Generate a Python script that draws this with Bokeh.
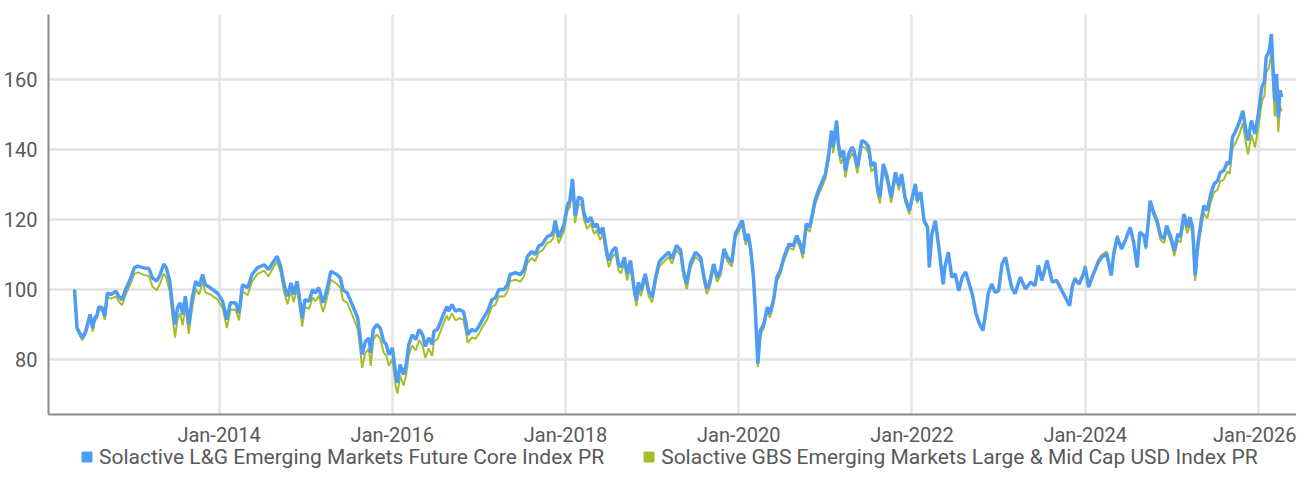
from bokeh.plotting import figure
from bokeh.models import Legend, LegendItem, FixedTicker
from bokeh.layouts import column
from bokeh.embed import file_html
from bokeh.resources import INLINE

FONT = "Roboto"
TEXT_COLOR = "#595959"
BLUE = "#4e9cf4"
GREEN = "#a6bd2b"

# dates as decimal years
dates = [
    2012.33, 2012.36, 2012.42, 2012.46, 2012.51, 2012.54, 2012.56, 2012.59, 2012.61, 2012.65,
    2012.68, 2012.71, 2012.75, 2012.81, 2012.84, 2012.88, 2012.92, 2012.98, 2013.02, 2013.06,
    2013.13, 2013.19, 2013.23, 2013.28, 2013.32, 2013.36, 2013.39, 2013.43, 2013.46, 2013.49,
    2013.52, 2013.55, 2013.58, 2013.61, 2013.65, 2013.69, 2013.73, 2013.77, 2013.81, 2013.84,
    2013.90, 2013.98, 2014.04, 2014.09, 2014.13, 2014.19, 2014.23, 2014.27, 2014.33, 2014.38,
    2014.44, 2014.52, 2014.57, 2014.63, 2014.67, 2014.71, 2014.75, 2014.79, 2014.83, 2014.86,
    2014.90, 2014.96, 2014.99, 2015.04, 2015.08, 2015.11, 2015.15, 2015.20, 2015.24, 2015.29,
    2015.32, 2015.36, 2015.40, 2015.43, 2015.48, 2015.52, 2015.56, 2015.60, 2015.63, 2015.65,
    2015.69, 2015.73, 2015.75, 2015.78, 2015.82, 2015.86, 2015.90, 2015.93, 2015.96, 2016.00,
    2016.04, 2016.06, 2016.09, 2016.13, 2016.16, 2016.19, 2016.23, 2016.27, 2016.31, 2016.35,
    2016.38, 2016.42, 2016.46, 2016.48, 2016.52, 2016.56, 2016.59, 2016.63, 2016.65, 2016.69,
    2016.73, 2016.77, 2016.82, 2016.85, 2016.87, 2016.92, 2016.96, 2017.00, 2017.04, 2017.10,
    2017.15, 2017.19, 2017.23, 2017.29, 2017.33, 2017.36, 2017.42, 2017.48, 2017.52, 2017.56,
    2017.61, 2017.65, 2017.69, 2017.73, 2017.79, 2017.83, 2017.86, 2017.88, 2017.92, 2017.98,
    2018.02, 2018.05, 2018.08, 2018.09, 2018.11, 2018.15, 2018.19, 2018.21, 2018.25, 2018.29,
    2018.33, 2018.36, 2018.40, 2018.43, 2018.47, 2018.50, 2018.54, 2018.58, 2018.61, 2018.64,
    2018.68, 2018.71, 2018.75, 2018.79, 2018.82, 2018.84, 2018.87, 2018.92, 2018.96, 2019.00,
    2019.04, 2019.08, 2019.11, 2019.15, 2019.19, 2019.23, 2019.28, 2019.33, 2019.36, 2019.40,
    2019.44, 2019.50, 2019.56, 2019.60, 2019.63, 2019.66, 2019.71, 2019.75, 2019.79, 2019.83,
    2019.87, 2019.92, 2019.96, 2020.00, 2020.04, 2020.08, 2020.11, 2020.14, 2020.17, 2020.19,
    2020.22, 2020.25, 2020.29, 2020.33, 2020.36, 2020.40, 2020.44, 2020.48, 2020.52, 2020.58,
    2020.63, 2020.67, 2020.71, 2020.74, 2020.78, 2020.82, 2020.85, 2020.88, 2020.92, 2020.96,
    2021.00, 2021.04, 2021.07, 2021.09, 2021.13, 2021.15, 2021.18, 2021.21, 2021.23, 2021.27,
    2021.31, 2021.33, 2021.37, 2021.42, 2021.46, 2021.50, 2021.53, 2021.57, 2021.60, 2021.63,
    2021.67, 2021.71, 2021.76, 2021.81, 2021.85, 2021.88, 2021.92, 2021.97, 2022.00, 2022.04,
    2022.06, 2022.10, 2022.14, 2022.18, 2022.20, 2022.23, 2022.27, 2022.31, 2022.36, 2022.38,
    2022.42, 2022.46, 2022.50, 2022.54, 2022.58, 2022.62, 2022.65, 2022.70, 2022.74, 2022.78,
    2022.82, 2022.86, 2022.88, 2022.92, 2022.96, 2023.00, 2023.04, 2023.08, 2023.11, 2023.15,
    2023.19, 2023.25, 2023.31, 2023.37, 2023.42, 2023.46, 2023.50, 2023.56, 2023.62, 2023.67,
    2023.71, 2023.73, 2023.77, 2023.82, 2023.85, 2023.88, 2023.93, 2023.98, 2024.00, 2024.04,
    2024.08, 2024.12, 2024.15, 2024.19, 2024.25, 2024.30, 2024.33, 2024.37, 2024.42, 2024.47,
    2024.52, 2024.56, 2024.60, 2024.63, 2024.68, 2024.70, 2024.73, 2024.75, 2024.79, 2024.83,
    2024.87, 2024.91, 2024.94, 2024.99, 2025.03, 2025.07, 2025.10, 2025.14, 2025.18, 2025.21,
    2025.24, 2025.27, 2025.30, 2025.34, 2025.37, 2025.41, 2025.45, 2025.49, 2025.53, 2025.56,
    2025.60, 2025.64, 2025.67, 2025.70, 2025.74, 2025.78, 2025.82, 2025.85, 2025.88, 2025.92,
    2025.96, 2026.00, 2026.04, 2026.07, 2026.09, 2026.12, 2026.13, 2026.15, 2026.17, 2026.19,
    2026.21, 2026.23, 2026.25, 2026.27,
]

lg_future_core = [
    100, 89, 86.2, 88.1, 92.9, 89, 91.7, 92.7, 95, 94.8,
    92.4, 99, 98.6, 99.5, 98.1, 97.1, 100, 103.3, 106.2, 106.7,
    106.2, 106, 103.3, 102.4, 104.3, 107.3, 106.2, 102.4, 95.7, 90,
    94.8, 96.2, 92.9, 98.1, 90, 97.6, 102.4, 101, 104.3, 101.4,
    100.5, 99, 96.7, 91.4, 96.2, 96.2, 93.3, 101.4, 100.5, 104.3,
    106.2, 107.1, 105.7, 108.1, 109.5, 106.7, 101.4, 98.1, 101.9, 98.6,
    102.4, 91.9, 97.1, 96.7, 100, 99, 100.5, 96.2, 99.5, 105.2,
    104.8, 104.3, 103.3, 100, 99, 96.7, 94.3, 91.9, 86.2, 81.4,
    85.2, 86.2, 81.9, 88.6, 90, 89, 85.2, 84.3, 81.4, 83.3,
    75.7, 73.3, 78.6, 75.7, 78.6, 84.3, 87.1, 85.7, 88.6, 87.1,
    83.8, 86.2, 84.3, 88.1, 88.6, 91, 92.9, 95.2, 93.8, 95.7,
    93.8, 94.3, 93.8, 90.5, 87.1, 88.6, 88.1, 89.5, 91.4, 93.8,
    97.1, 97.6, 100, 100, 101.4, 104.3, 104.8, 104.3, 105.7, 109.5,
    110.9, 110, 112.4, 112.9, 115.2, 115.5, 116.7, 119.7, 115, 118.3,
    124, 125.4, 131.6, 128.3, 121.1, 126.4, 125.9, 122.1, 119.2, 120.7,
    117.8, 118.8, 115.9, 117.8, 111.6, 108.3, 111.1, 112.1, 107.3, 106.4,
    109.2, 104.5, 108.3, 100.7, 96.9, 102.1, 99.7, 104.5, 99.7, 97.8,
    103.5, 107.8, 108.8, 109.7, 110.7, 108.8, 112.6, 111.1, 105.4, 101.6,
    107.3, 110.7, 109.2, 103.5, 100.2, 101.6, 107.3, 103.5, 105.4, 111.6,
    109.2, 107.8, 115.9, 117.8, 119.7, 114, 115.9, 111.1, 103.5, 95,
    78.8, 88.3, 90.2, 95, 93.1, 96.9, 103.5, 105.4, 109.2, 113,
    112.6, 115.4, 113, 110.2, 118.8, 117.8, 121.6, 125.4, 128.3, 130.7,
    133, 138.8, 145.4, 140.7, 148.3, 141.6, 137.8, 139.7, 134, 138.8,
    140.7, 139.7, 135, 142.6, 142.1, 140.7, 135.4, 136.4, 129.2, 126.4,
    135.9, 132.6, 126.4, 133.5, 129.7, 133, 126.4, 122.6, 125.9, 130.2,
    125.4, 127.8, 119.7, 117.8, 106.4, 115.9, 119.7, 112.1, 101.6, 106.4,
    110.7, 103.5, 104.5, 99.7, 103.5, 105, 102.6, 98.3, 93, 90.2,
    88.3, 95, 98.8, 101.6, 99.2, 99.7, 107.3, 109.2, 105.4, 100.7,
    98.8, 103.5, 100.2, 102.1, 101.1, 106.9, 102.6, 108.3, 102.1, 102.6,
    100.7, 99.7, 97.8, 95.4, 100.7, 103, 101.6, 104.5, 106.4, 100.7,
    103.5, 105.9, 107.8, 109.2, 110.2, 104, 110.2, 115, 111.6, 114.5,
    117.8, 113.5, 106.4, 116.4, 115.4, 112.1, 119.7, 125.4, 122.1, 119.7,
    115.4, 114.5, 118.3, 115, 111.1, 115.9, 115, 121.6, 117.8, 120.7,
    117.8, 104, 113, 119.7, 124, 122.6, 127.3, 130.2, 131.1, 133.5,
    134, 136.4, 135.9, 143.5, 145.4, 147.8, 151.1, 146.4, 142.6, 148.3,
    144.5, 150.2, 157.8, 159.7, 166.4, 167.8, 169.2, 173, 162.6, 154,
    161.6, 149.2, 156.9, 155,
]

gbs_large_mid = [
    100, 88.5, 85.5, 87.3, 92, 88, 90.8, 91.8, 94.2, 94,
    91.4, 97.8, 97.4, 98, 96.7, 95.5, 98.6, 101.8, 104.5, 104.9,
    104.2, 103.8, 100.9, 99.8, 101.8, 104.6, 103.4, 99.5, 92.6, 86.3,
    91.6, 93.2, 89.8, 95.3, 87.4, 95, 100.2, 98.6, 102.2, 99.2,
    98.6, 97.2, 94.7, 89, 94.2, 94.3, 91.2, 99.5, 98.4, 102.3,
    104.4, 105.4, 103.8, 106.5, 108, 105, 99.3, 95.8, 99.8, 96.4,
    100.4, 89.4, 95, 94.5, 97.8, 96.6, 98.2, 93.6, 97, 102.8,
    102.3, 101.6, 100.6, 97, 96.2, 93.8, 91.3, 88.6, 82.8, 77.6,
    82, 83, 78.2, 85.6, 87.2, 86, 82, 81.2, 78.2, 80.2,
    72.2, 70.3, 75.4, 72.6, 75.6, 81.3, 84, 82.6, 85.6, 84,
    80.5, 83.2, 81, 85.2, 85.8, 88.3, 90.3, 92.6, 91.2, 93.2,
    91.2, 91.8, 91.4, 88, 84.8, 86.3, 85.9, 87.4, 89.3, 91.7,
    95.1, 95.6, 98.1, 98, 99.5, 102.4, 102.8, 102.3, 103.8, 107.6,
    109, 108.1, 110.6, 111.1, 113.4, 113.7, 114.9, 118, 113.2, 116.6,
    122.3, 123.6, 129.8, 126.5, 119, 124.5, 124, 120.1, 117.3, 118.8,
    115.9, 117, 114.1, 116, 109.8, 106.4, 109.3, 110.4, 105.5, 104.6,
    107.5, 102.6, 106.6, 98.9, 95.2, 100.5, 98.1, 103, 98.1, 96.3,
    102, 106.3, 107.3, 108.3, 109.3, 107.4, 111.3, 109.8, 104, 100.1,
    106, 109.4, 107.9, 102.1, 98.7, 100.2, 106, 102.2, 104.1, 110.4,
    108, 106.6, 114.7, 116.6, 118.5, 112.8, 114.7, 109.9, 102.3, 93.8,
    77.8, 87.2, 89, 93.9, 92, 95.8, 102.4, 104.3, 108.1, 111.9,
    111.4, 114.2, 111.8, 108.9, 117.6, 116.5, 120.3, 124.1, 127, 129.3,
    131.6, 137.3, 143.8, 139, 146.6, 139.8, 135.9, 137.9, 132, 137,
    139, 138, 133.2, 141, 140.5, 139.1, 133.7, 134.8, 127.6, 124.6,
    134.4, 131.1, 124.8, 132.1, 128.4, 131.8, 125.2, 121.5, 125, 129.4,
    124.7, 127.2, 119.2, 117.4, 106.2, 115.6, 119.4, 111.8, 101.4, 106.2,
    110.6, 103.4, 104.4, 99.6, 103.4, 105, 102.5, 98.2, 92.9, 90.1,
    88.2, 95, 98.8, 101.6, 99.2, 99.8, 107.4, 109.2, 105.5, 100.8,
    98.9, 103.6, 100.4, 102.3, 101.3, 107, 102.8, 108.4, 102.3, 102.8,
    100.9, 99.9, 98, 95.7, 101, 103.4, 102, 104.9, 106.9, 101.3,
    104.1, 106.5, 108.5, 109.9, 110.9, 104.5, 110.8, 115.5, 111.9, 114.7,
    117.8, 113.4, 106.2, 116, 114.9, 111.5, 119, 124.5, 121.1, 118.6,
    114.2, 113.3, 117, 113.6, 109.6, 114.3, 113.4, 119.9, 116, 118.8,
    115.8, 102.5, 111, 117.6, 121.8, 120.3, 125, 127.8, 128.6, 130.9,
    131.4, 133.7, 133.1, 140.3, 142.1, 144.4, 147.6, 142.6, 138.6, 144.3,
    140.6, 146.3, 153.6, 155.4, 162, 163.3, 164.6, 168, 158, 149.5,
    157, 145, 152.4, 151,
]

series_names = [
    "Solactive L&G Emerging Markets Future Core Index PR",
    "Solactive GBS Emerging Markets Large & Mid Cap USD Index PR",
]
x_tick_years = [2014, 2016, 2018, 2020, 2022, 2024, 2026]
x_tick_labels = ["Jan-2014", "Jan-2016", "Jan-2018", "Jan-2020", "Jan-2022", "Jan-2024", "Jan-2026"]
y_ticks = [80, 100, 120, 140, 160]

# ---------------- main chart ----------------
p = figure(width=1296, height=449, output_backend="svg", toolbar_location=None,
           x_range=(2012.03, 2026.44), y_range=(64.3, 178.6),
           min_border_left=40, min_border_right=0, min_border_top=14, min_border_bottom=35)
p.outline_line_color = None
p.background_fill_color = "white"

p.xaxis.ticker = FixedTicker(ticks=x_tick_years)
p.xaxis.major_label_overrides = {yr: lbl for yr, lbl in zip(x_tick_years, x_tick_labels)}
p.yaxis.ticker = FixedTicker(ticks=y_ticks)

for ax in (p.xaxis, p.yaxis):
    ax.axis_line_color = "#8a8a8a"
    ax.axis_line_width = 2
    ax.major_tick_line_color = None
    ax.minor_tick_line_color = None
    ax.major_label_text_font = FONT
    ax.major_label_text_font_size = "20px"
    ax.major_label_text_color = TEXT_COLOR
p.yaxis.major_label_standoff = 5
p.xaxis.major_label_standoff = 2

p.grid.grid_line_color = "#e4e4e4"
p.grid.grid_line_width = 2.5

p.line(dates, gbs_large_mid, line_color=GREEN, line_width=2)
p.line(dates, lg_future_core, line_color=BLUE, line_width=3.5)

# ---------------- legend strip ----------------
lg = figure(width=1296, height=40, output_backend="svg", toolbar_location=None,
            x_range=(0, 1), y_range=(0, 1), x_axis_location=None, y_axis_location=None,
            min_border=0, styles={"margin-top": "-7px"})
lg.outline_line_color = None
lg.grid.visible = False
lg.border_fill_alpha = 0
lg.background_fill_alpha = 0

# zero-size markers (outside this strip's ranges) only supply the legend swatches
sw_blue = lg.scatter(dates, lg_future_core, marker="square", size=0,
                     fill_color=BLUE, line_color=BLUE)
sw_green = lg.scatter(dates, gbs_large_mid, marker="square", size=0,
                      fill_color=GREEN, line_color=GREEN)

legend = Legend(
    items=[LegendItem(label=series_names[0], renderers=[sw_blue]),
           LegendItem(label=series_names[1], renderers=[sw_green])],
    orientation="horizontal", location=(26, 13),
    glyph_width=25, glyph_height=25, label_standoff=0, spacing=32,
    padding=0, margin=0, border_line_color=None, background_fill_alpha=0,
    label_text_font=FONT, label_text_font_size="21px", label_text_color=TEXT_COLOR,
)
lg.add_layout(legend, "center")

layout = column(p, lg, spacing=0)
open("out.html", "w").write(file_html(layout, INLINE))
